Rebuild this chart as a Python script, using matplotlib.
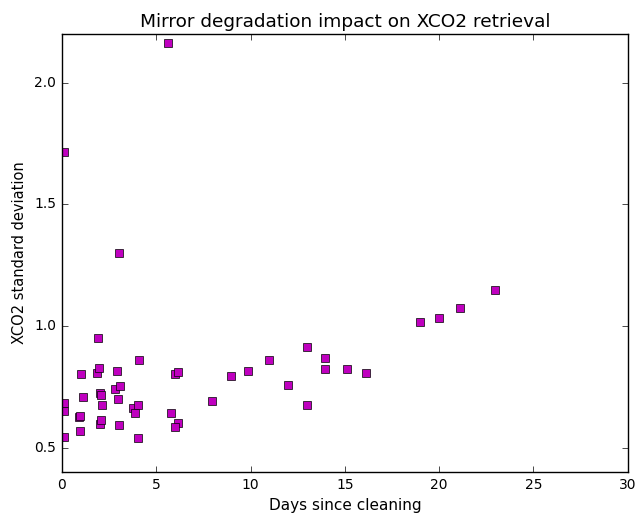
"""Mirror degradation vs XCO2 retrieval scatter."""

import matplotlib

matplotlib.use("Agg")
import matplotlib.pyplot as plt

plt.style.use("classic")

days = [
    0.1, 5.62, 3.02, 1.89, 4.08, 0.99, 1.87, 1.98, 2.93, 5.97, 6.15,
    1.11, 2.01, 2.10, 2.83, 3.07, 3.0, 2.12, 0.1, 0.1, 0.9, 0.97,
    0.95, 2.01, 2.07, 3.02, 3.78, 4.06, 3.9, 4.01, 5.81, 6.13, 5.99,
    0.1, 7.98, 8.96, 9.87, 10.99, 11.99, 12.97, 13.0, 13.95, 13.97,
    15.14, 16.13, 18.99, 19.99, 21.1, 22.98,
]
xco2_std = [
    1.716, 2.164, 1.301, 0.951, 0.861, 0.804, 0.805, 0.826, 0.813, 0.804, 0.809,
    0.709, 0.726, 0.718, 0.741, 0.752, 0.698, 0.675, 0.682, 0.652, 0.627, 0.631,
    0.570, 0.597, 0.613, 0.593, 0.664, 0.674, 0.644, 0.539, 0.644, 0.603, 0.586,
    0.545, 0.693, 0.793, 0.813, 0.859, 0.758, 0.915, 0.676, 0.868, 0.823,
    0.825, 0.808, 1.018, 1.032, 1.072, 1.149,
]

fig = plt.figure(figsize=(6.38, 5.13), dpi=100, facecolor="white")
ax = fig.add_axes([0.097, 0.080, 0.887, 0.854])
ax.plot(days, xco2_std, "ms", markersize=5.5, markeredgecolor="black")
ax.set_xlim(0, 30)
ax.set_ylim(0.4, 2.2)
ax.set_yticks([0.5, 1.0, 1.5, 2.0])
ax.set_xlabel("Days since cleaning", fontsize=11)
ax.set_ylabel("XCO2 standard deviation", fontsize=10.5)
ax.set_title("Mirror degradation impact on XCO2 retrieval", fontsize=13.3)
ax.tick_params(labelsize=10)

fig.savefig("out.png", dpi=100, facecolor="white")
